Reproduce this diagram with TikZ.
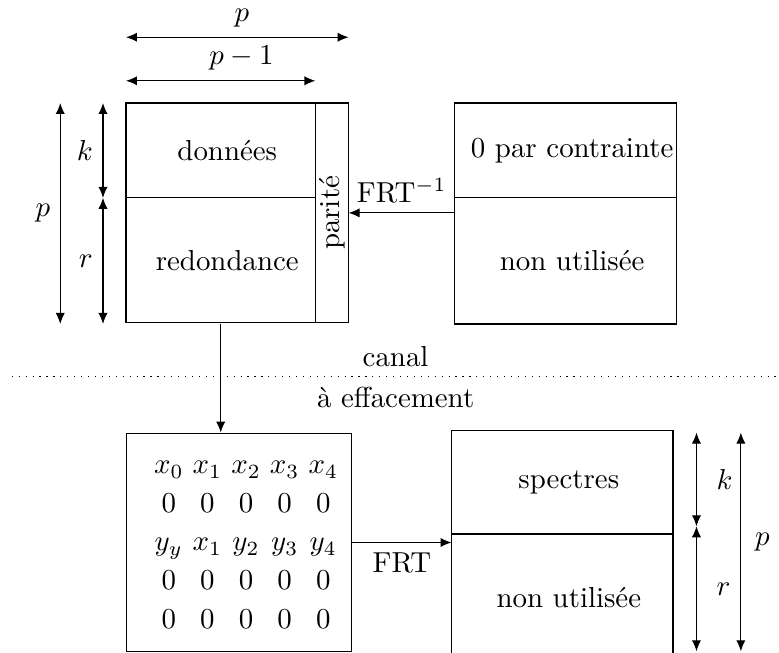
\documentclass[tikz,border=0pt]{standalone}
\usepackage{amsmath,amssymb,amsfonts}
\usepackage{xcolor}
\usepackage{tikz}
\usetikzlibrary{arrows.meta}

\begin{document}
\begin{tikzpicture}[
        >={Latex[length=3.8pt, width=3.2pt]},
        cell/.style={anchor=north west, inner sep=0pt},
        txt/.style={xshift=0.08cm},
        dimarrow/.style={<->}
    ]
        \useasboundingbox (-1.533, 1.253) rectangle (7.944, -6.691);
        % mot de code emis
        \node[cell, minimum width=2.29cm, minimum height=1.14cm] (data) at (0, 0) {};
        \node[cell, minimum width=2.29cm, minimum height=1.52cm] (red) at (data.south west) {};
        \node[cell, minimum width=0.39cm, minimum height=2.66cm] (par) at (data.north east) {};
        \draw (data.north west) rectangle (par.south east);
        \draw (data.south west) -- (data.south east);
        \draw (par.north west) -- (par.south west);
        \node[txt] (datatxt) at (data.center) {données};
        \node[txt] (redtxt) at (red.center) {redondance};
        \node[rotate=90] (partxt) at (par.center) {parité};
        % spectre impose
        \node[cell, minimum width=2.68cm, minimum height=1.14cm] (zero) at (4, 0) {};
        \node[cell, minimum width=2.68cm, minimum height=1.52cm] (free) at (zero.south west) {};
        \draw (zero.north west) rectangle (free.south east);
        \draw (zero.south west) -- (zero.south east);
        \node[txt] (zerotxt) at (zero.center) {0 par contrainte};
        \node[txt] (freetxt) at (free.center) {non utilisée};
        % mot recu
        \node[cell, draw, minimum width=2.74cm, minimum height=2.66cm] (mat) at (0, -4.01) {};
        \foreach \row [count=\i] in {{x_0,x_1,x_2,x_3,x_4},{0,0,0,0,0},{y_y,x_1,y_2,y_3,y_4},{0,0,0,0,0},{0,0,0,0,0}}
            \foreach \e [count=\j] in \row
                \node[anchor=base] (m\i\j) at ({0.05+0.47*\j}, {-4.04-0.47*\i}) {$\e$};
        % spectre recu
        \node[cell, minimum width=2.68cm, minimum height=1.25cm] (spec) at (3.96, -3.98) {};
        \node[cell, minimum width=2.68cm, minimum height=1.52cm] (free2) at (spec.south west) {};
        \draw (spec.north west) rectangle (free2.south east);
        \draw (spec.south west) -- (spec.south east);
        \node[txt] (spectxt) at (spec.center) {spectres};
        \node[txt] (free2txt) at (free2.center) {non utilisée};
        % liaisons
        \draw[->] (red.south) -- (red.south |- mat.north);
        \draw[->] (free.west |- par.east) -- node[anchor=south] {FRT$^{-1}$} (par.east);
        \draw[->] (mat.east) -- node[anchor=north] {FRT} (mat.east -| spec.west);
        % canal
        \coordinate (cl) at (-1.39, -3.33);
        \coordinate (cr) at (7.95, -3.33);
        \draw[dotted] (cl) -- (cr) node[midway, anchor=south] {canal} node[midway, anchor=north] {à effacement};
        % dimensions
        \draw[dimarrow] ([yshift=0.8cm]data.north west) -- ([yshift=0.8cm]par.north east) node[pos=0.52, anchor=south] {$p$};
        \draw[dimarrow] ([yshift=0.27cm]data.north west) -- ([yshift=0.27cm]data.north east) node[pos=0.61, anchor=south] {$p-1$};
        \draw[dimarrow] ([xshift=-0.8cm]data.north west) -- node[anchor=east] {$p$} ([xshift=-0.8cm]red.south west);
        \draw[dimarrow] ([xshift=-0.28cm]data.north west) -- node[anchor=east] {$k$} ([xshift=-0.28cm]data.south west);
        \draw[dimarrow] ([xshift=-0.28cm]red.north west) -- node[anchor=east] {$r$} ([xshift=-0.28cm]red.south west);
        \coordinate (kt) at (6.94, -4.01);
        \coordinate (km) at (6.94, -5.15);
        \coordinate (kb) at (6.94, -6.67);
        \coordinate (pt) at (7.48, -4.01);
        \coordinate (pb) at (7.48, -6.67);
        \draw[dimarrow] (kt) -- node[anchor=west, xshift=0.12cm] {$k$} (km);
        \draw[dimarrow] (km) -- node[anchor=west, xshift=0.12cm] {$r$} (kb);
        \draw[dimarrow] (pt) -- node[anchor=west, xshift=0.05cm] {$p$} (pb);
    \end{tikzpicture}
\end{document}
